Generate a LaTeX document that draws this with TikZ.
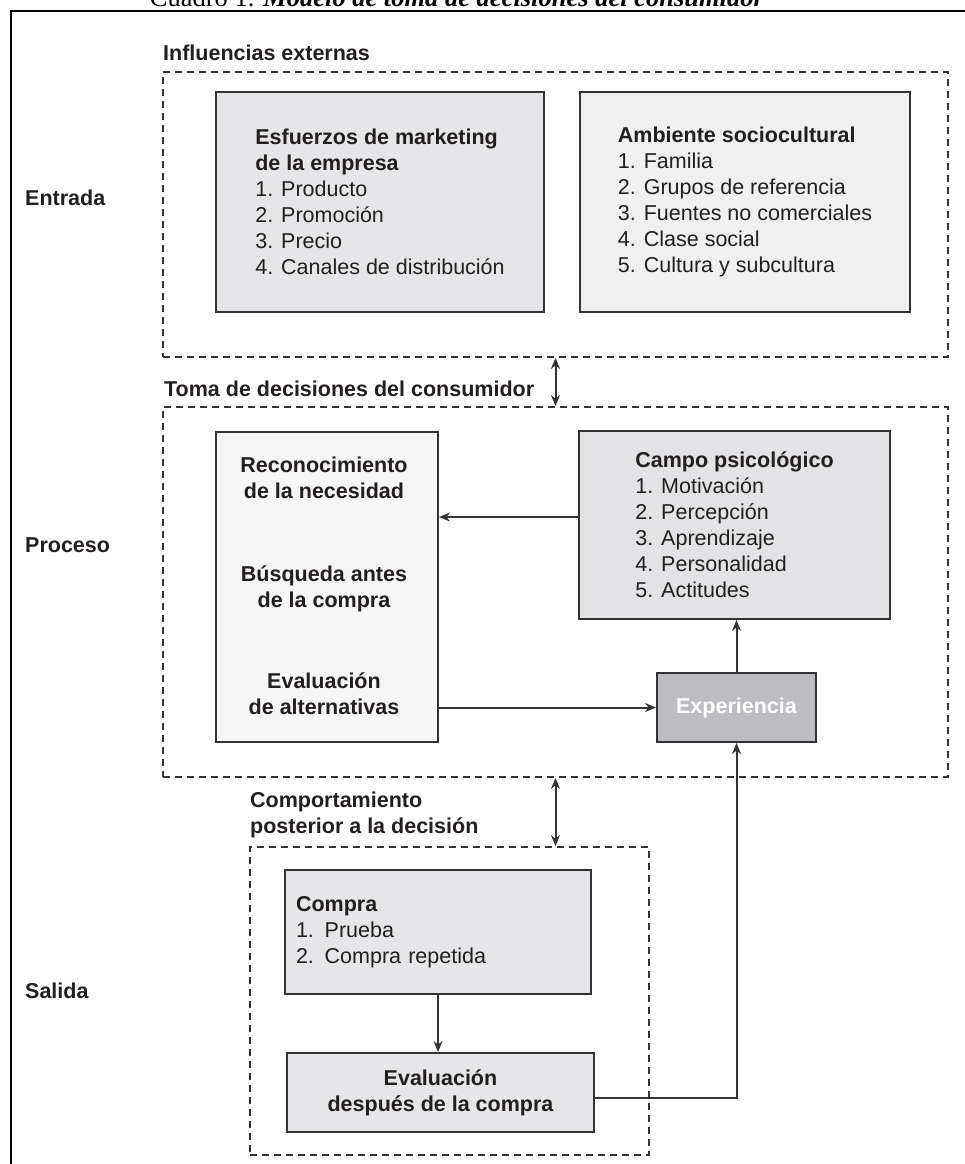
\documentclass[tikz,border=0pt]{standalone}
\usepackage{fontspec}
\setmainfont{Liberation Sans}
\newfontfamily\cuadrofont{Liberation Serif}
\usetikzlibrary{arrows.meta}
\definecolor{linea}{HTML}{333333}
\definecolor{grisA}{HTML}{E6E6E8}
\definecolor{grisB}{HTML}{F0F0F0}
\definecolor{grisC}{HTML}{F6F6F6}
\definecolor{grisD}{HTML}{E3E3E5}
\definecolor{grisE}{HTML}{BDBDC1}
\definecolor{texto}{HTML}{231F20}

\begin{document}
\begin{tikzpicture}[x=1pt,y=-1pt,font=\fontsize{21.5}{26}\selectfont,text=texto]
\tikzstyle{caja}=[draw=linea,line width=2pt,inner sep=0pt,shape=rectangle];
\tikzstyle{zona}=[draw=linea,line width=1.8pt,dash pattern=on 7pt off 5pt,inner sep=0pt,shape=rectangle];
\tikzstyle{titulo}=[anchor=base west,font=\fontsize{21.5}{26}\selectfont\bfseries,align=left,inner sep=0pt];
\tikzstyle{paso}=[anchor=base,align=center,inner sep=0pt,font=\fontsize{21.5}{26}\selectfont\bfseries];
\tikzstyle{flecha}=[draw=linea,line width=2pt,-{Stealth[length=11pt,width=9pt]}];
\tikzstyle{doble}=[draw=linea,line width=2pt,{Stealth[length=11pt,width=9pt]}-{Stealth[length=11pt,width=9pt]}];
\useasboundingbox (0,0) rectangle (965,1164);

% marco y leyenda
\node[anchor=base,inner sep=0pt,text=black,font=\cuadrofont\fontsize{26.5}{30}\selectfont] (cuadro) at (457,7)
  {Cuadro 1. \textbf{\textit{Modelo de toma de decisiones del consumidor}}};
\draw[line width=2.2pt,black] (11,1190) -- (11,11) -- (990,11);

% zonas
\node[zona,minimum width=785pt,minimum height=285pt] (ext)  at (555.5,214.5) {};
\node[zona,minimum width=785pt,minimum height=370pt] (dec)  at (555.5,592) {};
\node[zona,minimum width=399pt,minimum height=308pt] (post) at (449.5,1001) {};

\node[titulo] (tinf)  at (163,61)  {Influencias externas};
\node[titulo] (ttoma) at (164,396) {Toma de decisiones del consumidor};
\node[titulo] (tcomp) at (250,833) {Comportamiento\\posterior a la decisión};

\node[titulo] (entrada) at (25,205) {Entrada};
\node[titulo] (proceso) at (25,552) {Proceso};
\node[titulo] (salida)  at (25,998) {Salida};

% entrada
\node[caja,fill=grisA,minimum width=328pt,minimum height=220pt,align=left] (mkt) at (380,202)
  {\textbf{Esfuerzos de marketing}\\\textbf{de la empresa}\\1. Producto\\2. Promoción\\3. Precio\\4. Canales de distribución};
\node[caja,fill=grisB,minimum width=330pt,minimum height=220pt,align=left] (socio) at (745,202)
  {\textbf{Ambiente sociocultural}\\1. Familia\\2. Grupos de referencia\\3. Fuentes no comerciales\\4. Clase social\\5. Cultura y subcultura};

% proceso
\node[caja,fill=grisC,minimum width=222pt,minimum height=310pt] (proc) at (327,587) {};
\node[paso] (reco) at (324,498) {Reconocimiento\\de la necesidad};
\node[paso] (busq) at (324,607) {Búsqueda antes\\de la compra};
\node[paso] (alt)  at (324,714) {Evaluación\\de alternativas};

\node[caja,fill=grisD,minimum width=311pt,minimum height=188pt,align=left] (campo) at (734.5,525)
  {\textbf{Campo psicológico}\\1. Motivación\\2. Percepción\\3. Aprendizaje\\4. Personalidad\\5. Actitudes};
\node[caja,fill=grisE,minimum width=159pt,minimum height=69pt,text=white,font=\fontsize{21.5}{26}\selectfont\bfseries] (exp) at (736.5,707.5) {Experiencia};

% salida
\node[caja,fill=grisA,minimum height=124pt,text width=284pt,inner xsep=11pt,align=left] (compra) at (438,932)
  {\textbf{Compra}\\1. Prueba\\2. Compra repetida};
\node[caja,fill=grisA,minimum width=307pt,minimum height=79pt,align=center,font=\fontsize{21.5}{26}\selectfont\bfseries] (eval) at (440.5,1092.5)
  {Evaluación\\después de la compra};

% conexiones
\draw[doble] (ext.south) -- (dec.north);
\draw[doble] (dec.south) -- (dec.south |- post.north);
\draw[flecha] ([yshift=8pt]campo.west) -- ([yshift=8pt]campo.west -| proc.east);
\draw[flecha] (exp.west -| proc.east) -- (exp.west);
\draw[flecha] (exp.north) -- (exp.north |- campo.south);
\draw[flecha] (compra.south) -- (compra.south |- eval.north);
\draw[flecha] ([yshift=-5pt]eval.east) -| (exp.south);
\end{tikzpicture}
\end{document}
